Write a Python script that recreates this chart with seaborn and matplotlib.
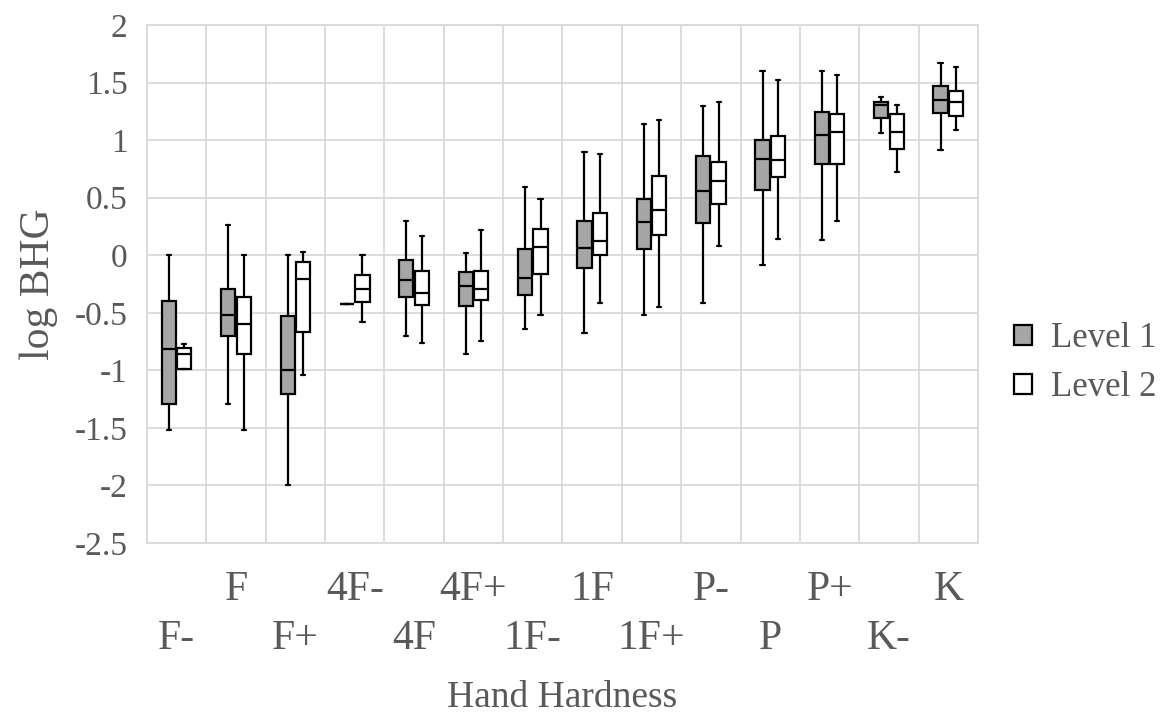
import matplotlib
matplotlib.use("Agg")
import matplotlib.pyplot as plt
import pandas as pd
import seaborn as sns

# Hand hardness classes (x axis) and the two levels compared
categories = ["F-", "F", "F+", "4F-", "4F", "4F+", "1F-", "1F", "1F+",
              "P-", "P", "P+", "K-", "K"]
levels = ["Level 1", "Level 2"]

# Five-number summaries of log BHG per hardness class: min, Q1, median, Q3, max
level1_min = [-1.516, -1.296, -1.997, -0.426, -0.698, -0.855, -0.637, -0.674, -0.518, -0.414, -0.084, 0.133, 1.058, 0.916]
level1_q1 = [-1.296, -0.699, -1.203, -0.426, -0.365, -0.445, -0.349, -0.113, 0.055, 0.278, 0.565, 0.794, 1.191, 1.235]
level1_med = [-0.817, -0.522, -1.000, -0.426, -0.212, -0.265, -0.198, 0.061, 0.286, 0.554, 0.835, 1.046, 1.301, 1.348]
level1_q3 = [-0.397, -0.296, -0.525, -0.426, -0.045, -0.145, 0.055, 0.294, 0.490, 0.858, 0.997, 1.246, 1.330, 1.467]
level1_max = [0.000, 0.260, 0.000, -0.426, 0.297, 0.023, 0.593, 0.895, 1.136, 1.293, 1.600, 1.600, 1.377, 1.667]

level2_min = [-0.986, -1.516, -1.041, -0.580, -0.765, -0.744, -0.520, -0.419, -0.451, 0.084, 0.142, 0.293, 0.719, 1.084]
level2_q1 = [-0.986, -0.855, -0.664, -0.406, -0.431, -0.390, -0.163, 0.006, 0.177, 0.449, 0.678, 0.794, 0.922, 1.206]
level2_med = [-0.855, -0.600, -0.206, -0.290, -0.325, -0.297, 0.073, 0.122, 0.390, 0.646, 0.829, 1.070, 1.070, 1.333]
level2_q3 = [-0.806, -0.362, -0.058, -0.168, -0.135, -0.134, 0.227, 0.366, 0.690, 0.812, 1.032, 1.229, 1.229, 1.423]
level2_max = [-0.768, 0.000, 0.029, 0.000, 0.168, 0.215, 0.491, 0.878, 1.171, 1.333, 1.525, 1.568, 1.304, 1.632]

y_ticks = [-2.5, -2, -1.5, -1, -0.5, 0, 0.5, 1, 1.5, 2]
y_tick_labels = ["-2.5", "-2", "-1.5", "-1", "-0.5", "0", "0.5", "1", "1.5", "2"]

summaries = {
    "Level 1": [level1_min, level1_q1, level1_med, level1_q3, level1_max],
    "Level 2": [level2_min, level2_q1, level2_med, level2_q3, level2_max],
}

# Long table: the five summary values of each box as its observations, so
# whiskers at the 0th/100th percentile and quartiles land on the summary values
rows = []
for lev in levels:
    for i, cat in enumerate(categories):
        for stat in summaries[lev]:
            rows.append({"Hand Hardness": cat, "log BHG": stat[i], "level": lev})
df = pd.DataFrame(rows)

sns.set_style("white")
plt.rcParams["font.family"] = ["Liberation Serif", "DejaVu Serif"]

text_grey = "#595959"
grid_grey = "#d9d9d9"

fig = plt.figure(figsize=(11.63, 7.15), dpi=100)
ax = fig.add_axes([0.1264, 0.2406, 0.7145, 0.7244])

sns.boxplot(
    data=df, x="Hand Hardness", y="log BHG", hue="level",
    order=categories, hue_order=levels,
    palette={"Level 1": "#a6a6a6", "Level 2": "#ffffff"},
    saturation=1, whis=(0, 100), width=0.52, gap=0.08,
    linecolor="black", linewidth=1.6, showfliers=False,
    capwidths=0.07, ax=ax, zorder=3,
)

ax.set_xlim(-0.5, len(categories) - 0.5)
ax.set_ylim(-2.5, 2)
ax.set_yticks(y_ticks)
ax.set_yticklabels(y_tick_labels)

# Staggered category labels on two rows
ax.set_xticks(range(len(categories)))
ax.set_xticklabels([("\n" + c) if i % 2 == 0 else c for i, c in enumerate(categories)],
                   linespacing=1.35)
ax.set_xticks([i + 0.5 for i in range(-1, len(categories))], minor=True)

ax.tick_params(axis="x", which="major", length=0, pad=20, labelsize=30, colors=text_grey)
ax.tick_params(axis="x", which="minor", length=0)
ax.tick_params(axis="y", length=0, pad=14, labelsize=24, colors=text_grey)

ax.grid(False)
ax.yaxis.grid(True, color=grid_grey, linewidth=1.3, zorder=0)
ax.xaxis.grid(True, which="minor", color=grid_grey, linewidth=1.3, zorder=0)
ax.set_axisbelow(True)
for sp in ax.spines.values():
    sp.set_color(grid_grey)
    sp.set_linewidth(1.3)

ax.set_xlabel("Hand Hardness", fontsize=27, color=text_grey, labelpad=16)
ax.set_ylabel("log BHG", fontsize=30, color=text_grey, labelpad=12)

sns.move_legend(
    ax, "center left", bbox_to_anchor=(1.023, 0.347), frameon=False, title=None,
    fontsize=25, handlelength=0.5, handleheight=0.5, handletextpad=0.55,
    labelspacing=0.45, borderpad=0, labelcolor=text_grey,
)

fig.savefig("out.png", dpi=100)
